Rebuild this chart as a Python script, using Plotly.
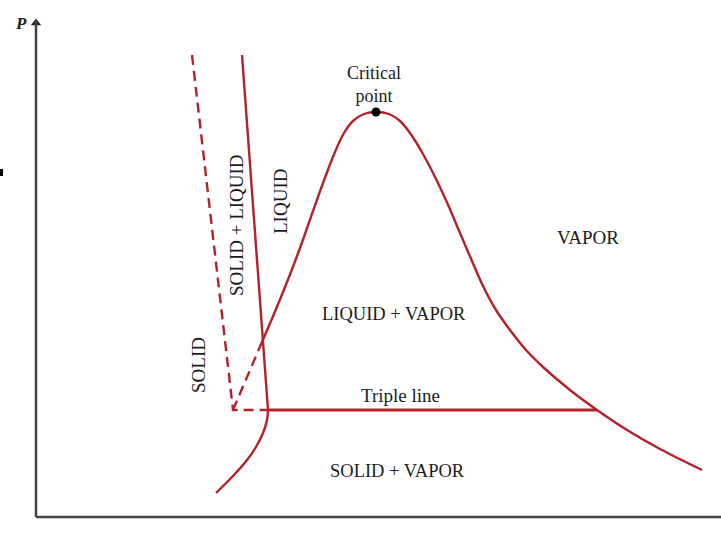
import plotly.graph_objects as go

# Diagram units: v (horizontal, specific volume), P (vertical, pressure); schematic, arbitrary units
RED = "#b3212b"
INK = "#1c1c1c"
FONT = "Liberation Serif"

# Saturation dome (saturated liquid line -> critical point -> saturated vapor line)
dome_v = [262, 271, 280, 290, 300, 309, 318, 326, 335, 344, 353, 364, 376,
          389, 400, 410, 423, 437, 449, 460, 472, 483, 496, 510, 526, 543, 570, 597, 627, 660, 702]
dome_P = [196, 217, 238.5, 263.5, 290, 315.5, 341, 363, 386, 405, 417, 424, 426,
          424, 417, 405, 384, 357, 331, 305, 277, 252, 228, 208, 188, 171, 148, 128, 108, 89, 68]

# Solid-vapor boundary below the triple line
subl_v = [268, 267, 263, 256, 247, 233, 216]
subl_P = [128, 118, 105, 91, 78, 62, 45]

# Solid/liquid boundary (solid line) and solid boundary (dashed)
fus_v = [242, 268]
fus_P = [483, 128]
solid_v = [192, 233, 268]
solid_P = [483, 128, 128]
meta_v = [233, 262]
meta_P = [128, 196]

# Triple line
triple_v = [268, 597]
triple_P = [128, 128]

# Critical point
crit_v = [376]
crit_P = [426]

# Region labels: (text, v, P, angle, size)
labels = [
    ("Critical<br>point", 374, 454, 0, 18),
    ("VAPOR", 588, 301, 0, 19),
    ("LIQUID + VAPOR", 394, 224, 0, 18.5),
    ("Triple line", 400, 143, 0, 19),
    ("SOLID + VAPOR", 397, 67, 0, 18.5),
    ("LIQUID", 280, 336, -90, 19),
    ("SOLID + LIQUID", 236, 313, -90, 19),
    ("SOLID", 198, 173, -90, 19),
]

# Axis frame
axis_v0, axis_P0, axis_vmax, axis_Pmax = 36, 21, 721, 518

fig = go.Figure()

def line(v, P, dash="solid", width=2.4, color=RED, shape="linear"):
    fig.add_trace(go.Scatter(x=v, y=P, mode="lines",
                             line=dict(color=color, width=width, dash=dash, shape=shape, smoothing=1.0),
                             hoverinfo="skip", showlegend=False))

line(dome_v, dome_P, shape="spline")
line(subl_v, subl_P, shape="spline")
line(fus_v, fus_P)
line(solid_v, solid_P, dash="10px,6px")
line(meta_v, meta_P, dash="10px,6px")
line(triple_v, triple_P, width=3)

fig.add_trace(go.Scatter(x=crit_v, y=crit_P, mode="markers", marker=dict(color="black", size=9),
                         hoverinfo="skip", showlegend=False))

# Axes
fig.add_shape(type="line", x0=axis_v0, x1=axis_v0, y0=axis_P0, y1=axis_Pmax, line=dict(color="#444", width=2.5))
fig.add_shape(type="line", x0=axis_v0, x1=axis_vmax, y0=axis_P0, y1=axis_P0, line=dict(color="#444", width=2.5))
fig.add_trace(go.Scatter(x=[axis_v0], y=[axis_Pmax - 3], mode="markers",
                         marker=dict(symbol="triangle-up", color="#222", size=9),
                         hoverinfo="skip", showlegend=False))
fig.add_shape(type="rect", x0=0, x1=3, y0=362, y1=369, line=dict(width=0), fillcolor="black")

fig.add_annotation(x=21, y=515, text="<b><i>P</i></b>", showarrow=False, font=dict(family=FONT, size=17, color=INK))

for text, v, P, ang, sz in labels:
    fig.add_annotation(x=v, y=P, text=text, showarrow=False, textangle=ang,
                       font=dict(family=FONT, size=sz, color=INK))

fig.update_layout(
    width=721, height=538,
    margin=dict(l=0, r=0, t=0, b=0),
    paper_bgcolor="white", plot_bgcolor="white",
    xaxis=dict(range=[0, 721], visible=False, fixedrange=True),
    yaxis=dict(range=[0, 538], visible=False, fixedrange=True),
)

fig.write_html("out.html")
